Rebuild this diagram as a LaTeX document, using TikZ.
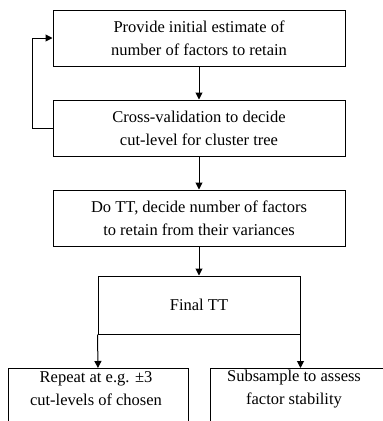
\documentclass[tikz,border=0pt]{standalone}
\usepackage{fontspec}
\setmainfont{Liberation Serif}
\usetikzlibrary{arrows.meta,calc}
\begin{document}
\begin{tikzpicture}[x=1pt,y=-1pt,
  box/.style={draw, line width=1pt, rectangle, inner sep=0pt, align=center, font=\fontsize{16.5}{23}\selectfont},
  txt/.style={inner sep=0pt, align=center, font=\fontsize{16.5}{23}\selectfont},
  arr/.style={line width=1pt, -{Triangle[length=7pt,width=7pt]}}]
\useasboundingbox (0,0) rectangle (383,421);
\clip (0,0) rectangle (383,421);
\node[box, minimum width=292pt, minimum height=56pt] (b1) at (199,38.5) {Provide initial estimate of\\number of factors to retain};
\node[box, minimum width=292pt, minimum height=56pt] (b2) at (199,128) {Cross-validation to decide\\cut-level for cluster tree};
\node[box, minimum width=292pt, minimum height=56pt] (b3) at (199,218) {Do TT, decide number of factors\\to retain from their variances};
\node[box, minimum width=202pt, minimum height=58pt] (b4) at (199,305) {Final TT};
\node[box, minimum width=180pt, minimum height=90pt, anchor=north] (b5) at (98,368) {};
\node[box, minimum width=260pt, minimum height=90pt, anchor=north west] (b6) at (210,368) {};
\node[txt] (t5) at (96,389) {Repeat at e.g. ±3\\cut-levels of chosen};
\node[txt] (t6) at (294,389) {Subsample to assess\\factor stability};
\coordinate (lp) at (32,128);
\draw[arr] (b1) -- (b2);
\draw[arr] (b2) -- (b3);
\draw[arr] (b3) -- (b4);
\draw[arr] (b4.south west) -- (b5.north);
\draw[arr] (b4.south east) -- (b4.south east |- b6.north);
\draw[arr] (b2.west |- lp) -- (lp) |- (b1.west |- 0,38);
\end{tikzpicture}
\end{document}
